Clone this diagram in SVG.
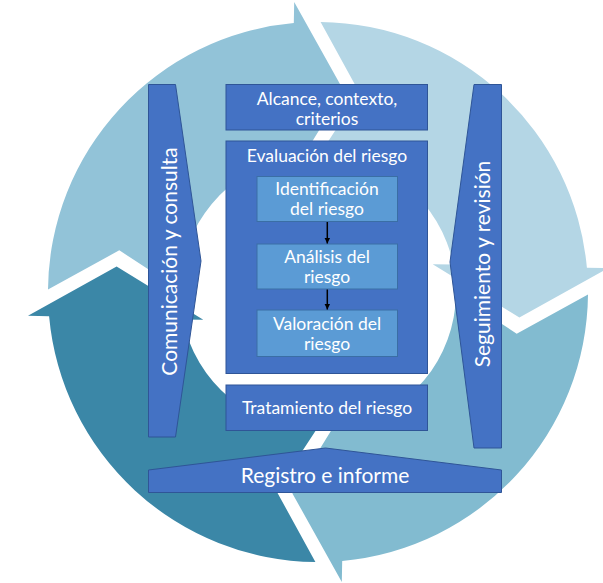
<svg xmlns="http://www.w3.org/2000/svg" width="603" height="583" viewBox="0 0 603 583">
<style>
.box{fill:#4472C4;stroke:#2F5597;stroke-width:1}
.sub{fill:#5B9BD5;stroke:#3A6EA5;stroke-width:1}
.t{font-family:Lato,"Open Sans","Liberation Sans",sans-serif;fill:#FFFFFF;text-anchor:middle}
.s{font-size:17.5px}
.b{font-size:21px}
.conn{stroke:#000000;stroke-width:1.5;fill:none;marker-end:url(#ah)}
</style>
<defs>
<path id="arc" d="M315.4 562.0 A270 270 0 0 1 49.1 316.2 L28.0 315.8 L116.6 266.4 L203.3 319.8 L182.7 319.4 A138 138 0 0 0 316.1 430.0 L276.3 490.7 Z"/>
<marker id="ah" markerUnits="userSpaceOnUse" markerWidth="7" markerHeight="7" refX="6" refY="3.5" orient="auto" viewBox="0 0 7 7"><path d="M0,0.5 L6,3.5 L0,6.5 Z" fill="#000000"/></marker>
</defs>
<rect width="603" height="583" fill="#FFFFFF"/>
<g id="cycle">
<use href="#arc" fill="#3B87A7"/>
<use href="#arc" fill="#92C3D8" transform="rotate(90 318 292)"/>
<use href="#arc" fill="#B4D6E5" transform="rotate(180 318 292)"/>
<use href="#arc" fill="#82BBD0" transform="rotate(270 318 292)"/>
</g>
<g id="comunicacion">
<polygon class="box" points="148.5,84.5 175.5,84.5 201,261 175.5,437 148.5,437"/>
<text class="t b" transform="translate(177 261.5) rotate(-90)">Comunicación y consulta</text>
</g>
<g id="seguimiento">
<polygon class="box" points="474,84.5 501.5,84.5 501.5,448 474,448 450,262"/>
<text class="t b" transform="translate(489.5 264) rotate(-90)">Seguimiento y revisión</text>
</g>
<g id="alcance">
<rect class="box" x="226" y="84.5" width="201.5" height="45.5"/>
<text class="t s" x="327" y="104.5">Alcance, contexto,</text>
<text class="t s" x="327" y="124.5">criterios</text>
</g>
<g id="evaluacion">
<rect class="box" x="226" y="141" width="201.5" height="232.5"/>
<text class="t s" x="327" y="162">Evaluación del riesgo</text>
</g>
<g id="identificacion">
<rect class="sub" x="257" y="176.5" width="140.5" height="45"/>
<text class="t s" x="327" y="195">Identificación</text>
<text class="t s" x="327" y="215">del riesgo</text>
</g>
<g id="analisis">
<rect class="sub" x="257" y="244" width="140.5" height="45"/>
<text class="t s" x="327" y="263">Análisis del</text>
<text class="t s" x="327" y="283">riesgo</text>
</g>
<g id="valoracion">
<rect class="sub" x="257" y="310" width="140.5" height="46.5"/>
<text class="t s" x="327" y="329.5">Valoración del</text>
<text class="t s" x="327" y="349.5">riesgo</text>
</g>
<g id="tratamiento">
<rect class="box" x="226" y="385" width="201.5" height="45.5"/>
<text class="t s" x="327" y="414">Tratamiento del riesgo</text>
</g>
<g id="registro">
<polygon class="box" points="148.5,470 325.5,448 501.5,470 501.5,492.5 148.5,492.5"/>
<text class="t b" x="325" y="482.5">Registro e informe</text>
</g>
<g id="connectors">
<path class="conn" d="M327.3 222 L327.3 243.5"/>
<path class="conn" d="M327.3 289.5 L327.3 309.5"/>
</g>
</svg>
